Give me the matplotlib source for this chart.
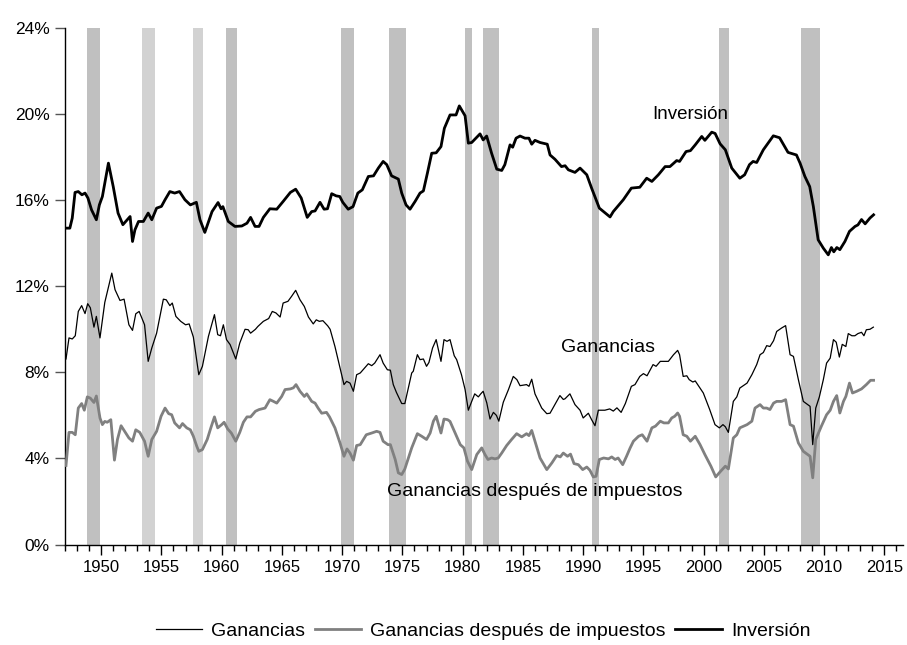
import matplotlib

matplotlib.use('Agg')

import matplotlib.pyplot as plt
from matplotlib.ticker import MultipleLocator, FuncFormatter

plt.rcParams['font.family'] = ['Liberation Sans', 'DejaVu Sans']

# Investment (% of GDP)
inv_year = [1947.0, 1947.4, 1947.6, 1947.83, 1948.1, 1948.4, 1948.66, 1948.9, 1949.2, 1949.6,
            1949.85, 1950.1, 1950.6, 1951.0, 1951.4, 1951.8, 1952.4, 1952.6, 1952.8, 1953.1,
            1953.5, 1953.9, 1954.2, 1954.6, 1955.0, 1955.3, 1955.7, 1956.1, 1956.5, 1956.95,
            1957.4, 1957.9, 1958.2, 1958.6, 1959.2, 1959.7, 1959.95, 1960.1, 1960.55, 1961.1,
            1961.67, 1962.1, 1962.4, 1962.77, 1963.1, 1963.46, 1964.0, 1964.57, 1965.1, 1965.7,
            1966.14, 1966.6, 1967.1, 1967.47, 1967.75, 1968.16, 1968.5, 1968.78, 1969.13, 1969.5,
            1969.8, 1970.05, 1970.5, 1970.9, 1971.3, 1971.67, 1972.17, 1972.6, 1973.0, 1973.4,
            1973.7, 1974.1, 1974.66, 1974.94, 1975.3, 1975.63, 1976.05, 1976.46, 1976.74, 1977.07,
            1977.43, 1977.8, 1978.2, 1978.48, 1978.95, 1979.45, 1979.72, 1980.2, 1980.47, 1980.75,
            1981.44, 1981.7, 1981.99, 1982.4, 1982.83, 1983.24, 1983.5, 1983.93, 1984.15, 1984.43,
            1984.76, 1985.17, 1985.5, 1985.73, 1986.0, 1986.42, 1987.02, 1987.25, 1987.66, 1988.2,
            1988.5, 1988.77, 1989.32, 1989.74, 1990.3, 1990.7, 1991.34, 1992.23, 1992.5, 1993.33,
            1994.0, 1994.7, 1995.27, 1995.7, 1996.24, 1996.8, 1997.2, 1997.76, 1998.0, 1998.54,
            1998.9, 1999.3, 1999.84, 2000.1, 2000.67, 2000.95, 2001.36, 2001.8, 2002.33, 2003.0,
            2003.4, 2003.8, 2004.1, 2004.4, 2004.95, 2005.78, 2006.3, 2007.0, 2007.7, 2008.0,
            2008.4, 2008.8, 2009.1, 2009.5, 2009.93, 2010.34, 2010.6, 2010.8, 2011.05, 2011.3,
            2011.72, 2012.1, 2012.56, 2012.8, 2013.1, 2013.4, 2013.8, 2014.1]
inv_val = [14.70, 14.70, 15.17, 16.36, 16.40, 16.25, 16.33, 16.10, 15.55, 15.09,
           15.78, 16.17, 17.72, 16.63, 15.40, 14.86, 15.24, 14.08, 14.62, 15.01,
           15.01, 15.40, 15.09, 15.63, 15.71, 16.02, 16.40, 16.33, 16.40, 16.02,
           15.78, 15.90, 15.09, 14.50, 15.47, 15.89, 15.60, 15.70, 15.01, 14.78,
           14.80, 14.93, 15.20, 14.78, 14.78, 15.20, 15.60, 15.58, 15.94, 16.36,
           16.51, 16.10, 15.20, 15.47, 15.50, 15.90, 15.58, 15.60, 16.30, 16.20,
           16.17, 15.90, 15.58, 15.70, 16.33, 16.48, 17.10, 17.13, 17.49, 17.80,
           17.65, 17.13, 16.98, 16.33, 15.78, 15.58, 15.94, 16.33, 16.43, 17.25,
           18.18, 18.20, 18.49, 19.34, 19.96, 19.96, 20.38, 19.92, 18.65, 18.68,
           19.08, 18.80, 18.98, 18.18, 17.44, 17.38, 17.65, 18.57, 18.46, 18.88,
           18.98, 18.88, 18.88, 18.60, 18.78, 18.68, 18.60, 18.10, 17.90, 17.56,
           17.60, 17.41, 17.29, 17.49, 17.18, 16.56, 15.63, 15.22, 15.47, 16.02,
           16.56, 16.60, 17.02, 16.87, 17.18, 17.56, 17.56, 17.84, 17.80, 18.26,
           18.30, 18.57, 18.96, 18.78, 19.16, 19.10, 18.62, 18.34, 17.49, 17.02,
           17.18, 17.65, 17.80, 17.75, 18.34, 18.99, 18.90, 18.22, 18.10, 17.72,
           17.10, 16.63, 15.71, 14.16, 13.77, 13.46, 13.80, 13.60, 13.80, 13.70,
           14.08, 14.55, 14.78, 14.85, 15.10, 14.90, 15.17, 15.32]

# Profits (% of GDP)
gan_year = [1947.08, 1947.33, 1947.6, 1947.85, 1948.1, 1948.38, 1948.66, 1948.88, 1949.1, 1949.4,
            1949.6, 1949.9, 1950.3, 1950.88, 1951.15, 1951.56, 1951.9, 1952.3, 1952.6, 1952.87,
            1953.15, 1953.6, 1953.9, 1954.2, 1954.6, 1955.16, 1955.4, 1955.7, 1955.9, 1956.2,
            1956.6, 1957.0, 1957.3, 1957.65, 1958.1, 1958.4, 1958.9, 1959.4, 1959.67, 1959.9,
            1960.14, 1960.4, 1960.7, 1961.17, 1961.5, 1961.94, 1962.2, 1962.4, 1962.8, 1963.0,
            1963.46, 1963.9, 1964.2, 1964.5, 1964.85, 1965.1, 1965.5, 1965.8, 1966.14, 1966.5,
            1966.86, 1967.2, 1967.6, 1967.85, 1968.1, 1968.4, 1968.8, 1969.0, 1969.4, 1969.82,
            1970.15, 1970.37, 1970.65, 1970.93, 1971.2, 1971.5, 1972.17, 1972.45, 1972.7, 1973.14,
            1973.4, 1973.75, 1974.0, 1974.24, 1974.5, 1974.94, 1975.2, 1975.77, 1975.9, 1976.24,
            1976.46, 1976.74, 1977.0, 1977.2, 1977.5, 1977.8, 1978.2, 1978.45, 1978.7, 1978.95,
            1979.3, 1979.5, 1979.9, 1980.2, 1980.47, 1980.75, 1981.0, 1981.3, 1981.5, 1981.7,
            1982.0, 1982.27, 1982.55, 1982.8, 1983.0, 1983.37, 1983.8, 1984.2, 1984.5, 1984.76,
            1985.3, 1985.5, 1985.73, 1986.0, 1986.56, 1986.98, 1987.25, 1988.07, 1988.35, 1988.49,
            1988.9, 1989.32, 1989.74, 1990.0, 1990.43, 1990.7, 1990.98, 1991.26, 1991.8, 1992.2,
            1992.5, 1992.8, 1993.15, 1993.5, 1994.0, 1994.3, 1994.7, 1995.0, 1995.3, 1995.8,
            1996.05, 1996.4, 1997.07, 1997.5, 1997.84, 1998.0, 1998.3, 1998.6, 1998.8, 1999.1,
            1999.3, 1999.97, 2000.5, 2000.94, 2001.3, 2001.6, 2001.8, 2002.05, 2002.46, 2002.75,
            2003.0, 2003.6, 2004.0, 2004.4, 2004.68, 2004.95, 2005.23, 2005.5, 2005.8, 2006.06,
            2006.47, 2006.8, 2007.17, 2007.45, 2007.86, 2008.27, 2008.83, 2009.05, 2009.3, 2009.6,
            2009.93, 2010.2, 2010.5, 2010.77, 2011.0, 2011.26, 2011.5, 2011.8, 2012.0, 2012.3,
            2012.55, 2012.8, 2013.1, 2013.3, 2013.5, 2013.8, 2014.08]
gan_val = [8.62, 9.60, 9.55, 9.70, 10.83, 11.10, 10.73, 11.19, 11.00, 10.10,
           10.60, 9.60, 11.25, 12.61, 11.84, 11.34, 11.40, 10.21, 9.95, 10.72,
           10.83, 10.21, 8.51, 9.13, 9.82, 11.40, 11.37, 11.10, 11.22, 10.60,
           10.37, 10.21, 10.25, 9.64, 7.89, 8.28, 9.67, 10.68, 9.75, 9.70,
           10.21, 9.52, 9.29, 8.62, 9.36, 10.00, 9.98, 9.82, 10.00, 10.13,
           10.37, 10.50, 10.83, 10.76, 10.57, 11.22, 11.30, 11.53, 11.81, 11.37,
           11.06, 10.57, 10.25, 10.44, 10.37, 10.40, 10.16, 10.00, 9.20, 8.20,
           7.43, 7.58, 7.50, 7.12, 7.89, 7.97, 8.40, 8.31, 8.43, 8.82,
           8.43, 8.12, 8.10, 7.43, 7.07, 6.55, 6.55, 7.97, 8.05, 8.82,
           8.59, 8.62, 8.28, 8.46, 9.13, 9.52, 8.51, 9.52, 9.44, 9.52,
           8.77, 8.59, 7.89, 7.20, 6.24, 6.65, 7.00, 6.86, 7.00, 7.12,
           6.58, 5.83, 6.14, 6.00, 5.73, 6.61, 7.20, 7.81, 7.66, 7.38,
           7.43, 7.35, 7.68, 7.00, 6.34, 6.08, 6.10, 6.92, 6.74, 6.77,
           7.00, 6.50, 6.24, 5.88, 6.10, 5.80, 5.52, 6.24, 6.24, 6.30,
           6.20, 6.35, 6.14, 6.55, 7.35, 7.43, 7.81, 7.94, 7.84, 8.36,
           8.28, 8.51, 8.51, 8.82, 9.02, 8.82, 7.81, 7.84, 7.66, 7.55,
           7.60, 7.04, 6.27, 5.57, 5.42, 5.57, 5.47, 5.21, 6.65, 6.86,
           7.27, 7.50, 7.89, 8.36, 8.82, 8.92, 9.24, 9.20, 9.47, 9.90,
           10.06, 10.17, 8.82, 8.74, 7.66, 6.65, 6.42, 4.64, 6.34, 6.86,
           7.66, 8.43, 8.66, 9.52, 9.40, 8.71, 9.30, 9.20, 9.80, 9.70,
           9.70, 9.80, 9.86, 9.70, 9.98, 10.00, 10.10]

# After-tax profits (% of GDP)
gdi_year = [1947.08, 1947.33, 1947.6, 1947.85, 1948.1, 1948.38, 1948.6, 1948.85, 1949.1, 1949.4,
            1949.6, 1949.9, 1950.1, 1950.3, 1950.5, 1950.8, 1951.1, 1951.35, 1951.65, 1952.0,
            1952.3, 1952.6, 1952.87, 1953.2, 1953.6, 1953.9, 1954.2, 1954.6, 1954.97, 1955.3,
            1955.6, 1955.85, 1956.1, 1956.5, 1956.75, 1957.1, 1957.4, 1957.65, 1957.93, 1958.1,
            1958.4, 1958.8, 1959.1, 1959.4, 1959.67, 1960.0, 1960.2, 1960.5, 1960.8, 1961.17,
            1961.5, 1961.8, 1962.1, 1962.4, 1962.8, 1963.1, 1963.6, 1964.0, 1964.3, 1964.57,
            1964.98, 1965.26, 1965.7, 1965.95, 1966.17, 1966.5, 1966.86, 1967.06, 1967.47, 1967.75,
            1968.0, 1968.3, 1968.7, 1968.95, 1969.4, 1969.82, 1970.15, 1970.4, 1970.65, 1970.93,
            1971.2, 1971.5, 1972.0, 1972.45, 1972.86, 1973.14, 1973.4, 1973.8, 1974.0, 1974.4,
            1974.66, 1974.94, 1975.2, 1975.77, 1976.24, 1976.6, 1977.0, 1977.3, 1977.57, 1977.8,
            1978.2, 1978.45, 1978.75, 1978.95, 1979.37, 1979.8, 1980.1, 1980.4, 1980.75, 1981.17,
            1981.58, 1981.85, 1982.1, 1982.4, 1982.68, 1982.95, 1983.24, 1983.65, 1984.06, 1984.48,
            1984.9, 1985.3, 1985.5, 1985.73, 1986.0, 1986.42, 1986.98, 1987.4, 1987.8, 1988.1,
            1988.35, 1988.7, 1988.95, 1989.24, 1989.6, 1989.96, 1990.3, 1990.56, 1990.84, 1991.07,
            1991.34, 1991.7, 1992.1, 1992.37, 1992.65, 1992.9, 1993.28, 1993.6, 1993.9, 1994.17,
            1994.6, 1994.9, 1995.3, 1995.7, 1996.0, 1996.4, 1996.7, 1997.07, 1997.35, 1997.6,
            1997.84, 1998.0, 1998.3, 1998.6, 1998.9, 1999.3, 1999.7, 2000.1, 2000.6, 2001.0,
            2001.4, 2001.8, 2002.05, 2002.46, 2002.75, 2003.0, 2003.6, 2004.0, 2004.26, 2004.68,
            2004.95, 2005.23, 2005.5, 2005.8, 2006.06, 2006.47, 2006.8, 2007.17, 2007.45, 2007.86,
            2008.27, 2008.83, 2009.05, 2009.3, 2009.77, 2010.2, 2010.5, 2010.77, 2011.04, 2011.3,
            2011.6, 2011.8, 2012.1, 2012.35, 2012.7, 2013.1, 2013.5, 2013.85, 2014.1]
gdi_val = [3.67, 5.21, 5.21, 5.10, 6.34, 6.55, 6.24, 6.86, 6.80, 6.60,
           6.90, 5.88, 5.57, 5.72, 5.68, 5.80, 3.92, 4.88, 5.52, 5.21,
           4.95, 4.80, 5.33, 5.21, 4.80, 4.10, 4.88, 5.26, 5.96, 6.34,
           6.08, 6.03, 5.65, 5.42, 5.62, 5.42, 5.33, 5.03, 4.57, 4.33,
           4.41, 4.88, 5.42, 5.93, 5.42, 5.57, 5.68, 5.37, 5.18, 4.80,
           5.21, 5.68, 5.93, 5.93, 6.19, 6.27, 6.34, 6.73, 6.65, 6.57,
           6.88, 7.20, 7.23, 7.28, 7.43, 7.12, 6.88, 7.00, 6.65, 6.57,
           6.34, 6.10, 6.14, 5.93, 5.42, 4.72, 4.10, 4.44, 4.25, 3.92,
           4.60, 4.64, 5.10, 5.18, 5.26, 5.21, 4.80, 4.64, 4.64, 3.95,
           3.33, 3.25, 3.51, 4.49, 5.15, 5.03, 4.88, 5.18, 5.73, 5.96,
           5.18, 5.83, 5.80, 5.72, 5.18, 4.64, 4.49, 3.87, 3.48, 4.18,
           4.49, 4.18, 3.95, 4.02, 3.98, 4.02, 4.25, 4.60, 4.88, 5.15,
           5.00, 5.15, 5.06, 5.30, 4.80, 4.02, 3.48, 3.79, 4.13, 4.07,
           4.25, 4.10, 4.20, 3.76, 3.71, 3.48, 3.60, 3.45, 3.14, 3.17,
           3.95, 4.02, 3.98, 4.07, 3.95, 4.02, 3.71, 4.10, 4.49, 4.80,
           5.03, 5.10, 4.80, 5.42, 5.50, 5.73, 5.65, 5.65, 5.88, 5.96,
           6.11, 5.96, 5.10, 5.03, 4.80, 5.03, 4.64, 4.18, 3.64, 3.14,
           3.40, 3.64, 3.51, 4.95, 5.10, 5.42, 5.57, 5.73, 6.34, 6.50,
           6.34, 6.34, 6.27, 6.57, 6.65, 6.65, 6.73, 5.57, 5.50, 4.72,
           4.33, 4.10, 3.10, 4.88, 5.50, 6.03, 6.24, 6.65, 6.92, 6.11,
           6.65, 6.88, 7.50, 7.04, 7.12, 7.23, 7.43, 7.63, 7.63]

# Recessions (start, end) and their shading
rec_start = [1948.83, 1953.37, 1957.65, 1960.36, 1969.9, 1973.91, 1980.2, 1981.66, 1990.71, 2001.27, 2008.05]
rec_end = [1949.9, 1954.47, 1958.43, 1961.25, 1971.0, 1975.3, 1980.8, 1983.04, 1991.34, 2002.1, 2009.65]
rec_shade = ['#c0c0c0', '#d2d2d2', '#d2d2d2', '#c0c0c0', '#c0c0c0', '#c0c0c0',
             '#c0c0c0', '#c0c0c0', '#c0c0c0', '#c0c0c0', '#c0c0c0']

fig = plt.figure(figsize=(9.07, 6.45), dpi=100)
ax = fig.add_axes([0.0717, 0.1558, 0.9236, 0.8008])

for s, e, c in zip(rec_start, rec_end, rec_shade):
    ax.axvspan(s, e, color=c, lw=0, zorder=0)

ax.plot(gan_year, gan_val, color='black', linewidth=0.9, label='Ganancias', zorder=3)
ax.plot(gdi_year, gdi_val, color='#808080', linewidth=2.0, label='Ganancias después de impuestos', zorder=3)
ax.plot(inv_year, inv_val, color='black', linewidth=2.0, label='Inversión', zorder=4)

ax.text(1998.9, 20.0, 'Inversión', fontsize=13.5, ha='center', va='center')
ax.text(1992.1, 9.15, 'Ganancias', fontsize=14, ha='center', va='center')
ax.text(1986.0, 2.45, 'Ganancias después de impuestos', fontsize=14, ha='center', va='center')

ax.set_xlim(1947, 2016.52)
ax.set_ylim(0, 24)
ax.yaxis.set_major_locator(MultipleLocator(4))
ax.yaxis.set_major_formatter(FuncFormatter(lambda v, p: '%d%%' % v))
ax.xaxis.set_major_locator(MultipleLocator(5))
ax.xaxis.set_minor_locator(MultipleLocator(1))
ax.xaxis.set_major_formatter(FuncFormatter(lambda v, p: '%d' % v))

ax.spines['top'].set_visible(False)
ax.spines['right'].set_visible(False)
ax.spines['left'].set_linewidth(1.0)
ax.spines['bottom'].set_linewidth(1.0)
ax.tick_params(axis='y', direction='out', length=7, width=1, color='#555555', labelsize=12.5, pad=4)
ax.tick_params(axis='x', which='major', direction='out', length=7, width=1, labelsize=12, pad=4)
ax.tick_params(axis='x', which='minor', direction='out', length=4, width=1)

fig.legend(loc='center', bbox_to_anchor=(0.5325, 0.021), ncol=3, frameon=False, fontsize=14,
           handlelength=2.4, handletextpad=0.45, columnspacing=0.5)

fig.savefig('out.png', dpi=100)
